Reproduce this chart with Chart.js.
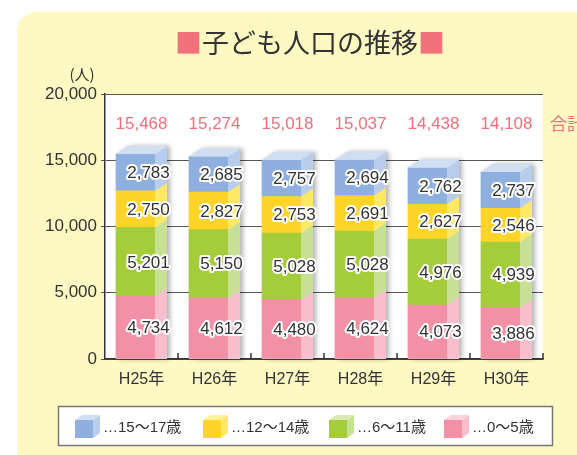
<!DOCTYPE html>
<html lang="ja">
<head>
<meta charset="utf-8">
<title>子ども人口の推移</title>
<script src="https://cdn.jsdelivr.net/npm/chart.js@4/dist/chart.umd.min.js"></script>
<style>
  html, body { margin: 0; padding: 0; background: #fff; }
  #wrap { width: 577px; height: 455px; }
</style>
</head>
<body>
<div id="wrap"><canvas id="popChart" width="577" height="455"></canvas></div>
<script>
// data
const years = ['H25年', 'H26年', 'H27年', 'H28年', 'H29年', 'H30年'];
const age0to5 = [4734, 4612, 4480, 4624, 4073, 3886];
const age6to11 = [5201, 5150, 5028, 5028, 4976, 4939];
const age12to14 = [2750, 2827, 2753, 2691, 2627, 2546];
const age15to17 = [2783, 2685, 2757, 2694, 2762, 2737];
const totals = [15468, 15274, 15018, 15037, 14438, 14108];
const yTicks = [0, 5000, 10000, 15000, 20000];
const seriesNames = ['…0～5歳', '…6～11歳', '…12～14歳', '…15～17歳'];

const FONT = '"Liberation Sans", "Noto Sans CJK JP", sans-serif';
const CJK = '"Noto Sans CJK JP", sans-serif';
const INK = '#333';
const PINK_TXT = '#ef6f7d';

// front / side / top colours per series (bottom to top)
const faces = [
  { front: '#f291a5', side: '#f8becb', top: '#fad2dc' },
  { front: '#a5cc3a', side: '#c8e096', top: '#d8eab2' },
  { front: '#ffd428', side: '#ffe864', top: '#fff09a' },
  { front: '#8fb0de', side: '#b8ccec', top: '#d0def2' }
];

const SHIFT = 6, DEPTH = 12, RISE = 8;

function fmt(v) { return v.toLocaleString('en-US'); }

function roundRect(ctx, x, y, w, h, r) {
  ctx.beginPath();
  ctx.moveTo(x + r, y);
  ctx.lineTo(x + w, y);
  ctx.lineTo(x + w, y + h);
  ctx.lineTo(x, y + h);
  ctx.lineTo(x, y + r);
  ctx.quadraticCurveTo(x, y, x + r, y);
  ctx.closePath();
}

function drawCube(ctx, x, y, s, f) {
  const d = 7, r = 5;
  ctx.fillStyle = f.side;
  ctx.beginPath();
  ctx.moveTo(x + s, y); ctx.lineTo(x + s + d, y - r);
  ctx.lineTo(x + s + d, y + s - r); ctx.lineTo(x + s, y + s);
  ctx.closePath(); ctx.fill();
  ctx.fillStyle = f.top;
  ctx.beginPath();
  ctx.moveTo(x, y); ctx.lineTo(x + d, y - r);
  ctx.lineTo(x + s + d, y - r); ctx.lineTo(x + s, y);
  ctx.closePath(); ctx.fill();
  ctx.fillStyle = f.front;
  ctx.fillRect(x, y, s, s);
}

const bar3d = {
  id: 'bar3d',
  beforeDraw(chart) {
    const { ctx, chartArea: a, width, height } = chart;
    ctx.save();
    ctx.fillStyle = '#fff';
    ctx.fillRect(0, 0, width, height);
    ctx.fillStyle = '#fef8c3';
    roundRect(ctx, 17, 12, width, height, 22);
    ctx.fill();
    ctx.fillStyle = '#fff';
    ctx.fillRect(a.left, a.top, a.right - a.left, a.bottom - a.top);
    ctx.restore();
  },
  beforeDatasetsDraw(chart) {
    const ctx = chart.ctx;
    ctx.save();
    ctx.translate(-SHIFT, 0);
    // soft shadow behind each stack
    const topMeta = chart.getDatasetMeta(chart.data.datasets.length - 1);
    const base = chart.scales.y.getPixelForValue(0);
    ctx.save();
    ctx.shadowColor = 'rgba(0,0,0,0.3)';
    ctx.shadowBlur = 5;
    ctx.shadowOffsetX = 3;
    ctx.fillStyle = '#ddd';
    topMeta.data.forEach(el => {
      const l = el.x - el.width / 2, r = el.x + el.width / 2;
      ctx.beginPath();
      ctx.moveTo(l, base); ctx.lineTo(l, el.y);
      ctx.lineTo(l + DEPTH, el.y - RISE); ctx.lineTo(r + DEPTH, el.y - RISE);
      ctx.lineTo(r + DEPTH, base); ctx.closePath();
      ctx.fill();
    });
    ctx.restore();
  },
  afterDatasetsDraw(chart) {
    const ctx = chart.ctx;
    const n = chart.data.datasets.length;
    chart.data.datasets.forEach((ds, di) => {
      const f = faces[di];
      chart.getDatasetMeta(di).data.forEach(el => {
        const l = el.x - el.width / 2, r = el.x + el.width / 2;
        const bot = el.base, top = el.y;
        ctx.fillStyle = f.side;
        ctx.beginPath();
        ctx.moveTo(r, bot); ctx.lineTo(r, top);
        ctx.lineTo(r + DEPTH, top - RISE);
        ctx.lineTo(r + DEPTH, di === 0 ? bot : bot - RISE);
        ctx.closePath(); ctx.fill();
        if (di === n - 1) {
          ctx.fillStyle = f.top;
          ctx.beginPath();
          ctx.moveTo(l, top); ctx.lineTo(l + DEPTH, top - RISE);
          ctx.lineTo(r + DEPTH, top - RISE); ctx.lineTo(r, top);
          ctx.closePath(); ctx.fill();
        }
      });
    });
    // value labels
    ctx.font = '17px ' + FONT;
    ctx.textAlign = 'center';
    ctx.textBaseline = 'middle';
    ctx.lineJoin = 'round';
    chart.data.datasets.forEach((ds, di) => {
      chart.getDatasetMeta(di).data.forEach((el, i) => {
        const tx = el.x + 13, ty = (el.y + el.base) / 2 + 1;
        ctx.strokeStyle = '#fff';
        ctx.lineWidth = 4;
        ctx.strokeText(fmt(ds.data[i]), tx, ty);
        ctx.fillStyle = INK;
        ctx.fillText(fmt(ds.data[i]), tx, ty);
      });
    });
    ctx.restore();
  },
  afterDraw(chart) {
    const { ctx, chartArea: a } = chart;
    const xs = chart.scales.x;
    ctx.save();

    // small tick marks inside the x axis, at category borders
    const half = (xs.getPixelForValue(1) - xs.getPixelForValue(0)) / 2;
    ctx.strokeStyle = INK;
    ctx.lineWidth = 1.5;
    years.forEach((y, i) => {
      const bx = Math.round(xs.getPixelForValue(i) + half);
      ctx.beginPath();
      ctx.moveTo(bx, a.bottom);
      ctx.lineTo(bx, a.bottom - 6);
      ctx.stroke();
    });

    // totals
    ctx.font = '17px ' + FONT;
    ctx.fillStyle = PINK_TXT;
    ctx.textAlign = 'center';
    ctx.textBaseline = 'middle';
    totals.forEach((t, i) => {
      ctx.fillText(fmt(t), xs.getPixelForValue(i), a.top + 30);
    });
    ctx.textAlign = 'left';
    ctx.font = '17px ' + CJK;
    ctx.fillText('合計', a.right + 7, a.top + 30);

    // unit
    ctx.fillStyle = INK;
    ctx.font = '15px ' + CJK;
    ctx.textAlign = 'center';
    ctx.fillText('(人)', 82, 74);

    // title
    ctx.font = '27px ' + CJK;
    ctx.textAlign = 'left';
    const mid = '子ども人口の推移';
    const sq = '■';
    const wSq = ctx.measureText(sq).width, wMid = ctx.measureText(mid).width;
    let tx = 310 - (wSq * 2 + wMid) / 2;
    ctx.fillStyle = '#f2727c';
    ctx.fillText(sq, tx, 43);
    ctx.fillStyle = INK;
    ctx.fillText(mid, tx + wSq, 43);
    ctx.fillStyle = '#f2727c';
    ctx.fillText(sq, tx + wSq + wMid, 43);

    // legend box
    ctx.fillStyle = '#fff';
    ctx.fillRect(58, 406, 494, 39);
    ctx.strokeStyle = '#777';
    ctx.lineWidth = 1.5;
    ctx.strokeRect(58.5, 406.5, 494, 39);
    ctx.font = '15px ' + FONT;
    ctx.textBaseline = 'middle';
    const legendX = [75, 203, 329, 444];
    [3, 2, 1, 0].forEach((di, k) => {
      drawCube(ctx, legendX[k], 420, 18, faces[di]);
      ctx.fillStyle = INK;
      ctx.fillText(seriesNames[di], legendX[k] + 28, 428);
    });
    ctx.restore();
  }
};

const chartData = {
  labels: years,
  datasets: [age0to5, age6to11, age12to14, age15to17].map((vals, i) => ({
    label: seriesNames[i],
    data: vals,
    backgroundColor: faces[i].front,
    borderWidth: 0,
    barThickness: 39,
    clip: false
  }))
};

new Chart(document.getElementById('popChart'), {
  type: 'bar',
  data: chartData,
  options: {
    responsive: false,
    animation: false,
    events: [],
    layout: { padding: { top: 94, right: 34, left: 0, bottom: 56 } },
    plugins: {
      legend: { display: false },
      title: { display: false },
      tooltip: { enabled: false }
    },
    scales: {
      x: {
        stacked: true,
        grid: { display: false, drawTicks: false },
        border: { display: true, color: INK, width: 1.5 },
        ticks: { color: INK, font: { size: 16, family: FONT }, padding: 11 },
        afterFit(scale) { scale.height = 40; }
      },
      y: {
        stacked: true,
        min: 0,
        max: 20000,
        afterBuildTicks(scale) { scale.ticks = yTicks.map(v => ({ value: v })); },
        grid: { color: '#555', lineWidth: 1, tickLength: 4 },
        border: { display: true, color: INK, width: 1.5 },
        ticks: { color: INK, font: { size: 17, family: FONT }, padding: 4, callback: v => fmt(v) },
        afterFit(scale) { scale.width = 105; }
      }
    }
  },
  plugins: [bar3d]
});
</script>
</body>
</html>
